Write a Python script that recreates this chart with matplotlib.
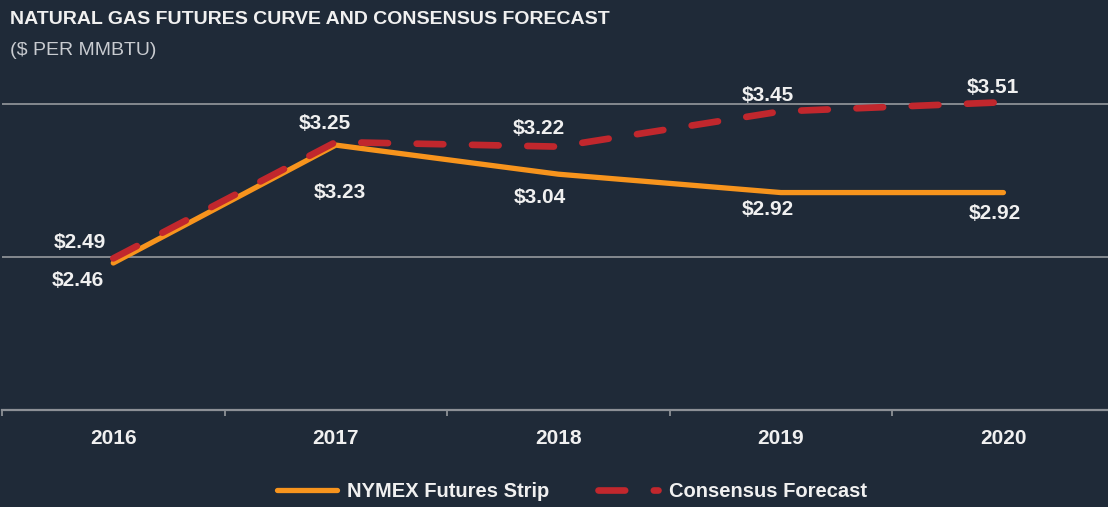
import matplotlib
matplotlib.use("Agg")
import matplotlib.pyplot as plt

plt.rcParams["font.family"] = ["Liberation Sans", "DejaVu Sans"]

years = ["2016", "2017", "2018", "2019", "2020"]
nymex_strip = [2.46, 3.23, 3.04, 2.92, 2.92]
consensus = [2.49, 3.25, 3.22, 3.45, 3.51]

# label offsets in pixels (dx, dy) from each point
nymex_offsets = [(-35, -18), (4, -47), (-19, -23), (-13, -17), (-9, -21)]
consensus_offsets = [(-33, 16), (-11, 19), (-20, 18), (-13, 16), (-11, 15)]

BG = "#1f2a38"
ORANGE = "#f7941d"
RED = "#c1272d"
GRID = "#8c9096"
TEXT = "#f0f0f0"

fig = plt.figure(figsize=(11.08, 5.07), dpi=100, facecolor=BG)
ax = fig.add_axes([2 / 1108, 1 - 410 / 507, 1 - 2 / 1108, 343 / 507])
ax.set_facecolor(BG)

x = list(range(len(years)))
ax.plot(x, nymex_strip, color=ORANGE, lw=3.8, solid_capstyle="round",
        solid_joinstyle="round", label="NYMEX Futures Strip", zorder=3)
ax.plot(x, consensus, color=RED, lw=4.8, dashes=(4.0, 4.3),
        dash_capstyle="round", label="Consensus Forecast", zorder=4)

for xi, v, off in zip(x, nymex_strip, nymex_offsets):
    ax.annotate(f"${v:.2f}", (xi, v), xytext=off, textcoords="offset pixels",
                ha="center", va="center", color=TEXT, fontsize=15,
                fontweight="bold")
for xi, v, off in zip(x, consensus, consensus_offsets):
    ax.annotate(f"${v:.2f}", (xi, v), xytext=off, textcoords="offset pixels",
                ha="center", va="center", color=TEXT, fontsize=15,
                fontweight="bold")

ax.set_xlim(-0.5, 4.47)
ax.set_ylim(1.5, 3.74)

ax.set_yticks([2.5, 3.5])
ax.yaxis.grid(True, color=GRID, lw=1.3)
ax.tick_params(axis="y", length=0, labelleft=False)

ax.set_xticks([i - 0.5 for i in x])
ax.set_xticklabels([])
ax.set_xticks(x, minor=True)
ax.set_xticklabels(years, minor=True)
ax.tick_params(axis="x", which="major", direction="out", length=4,
               width=1.3, color=GRID)
ax.tick_params(axis="x", which="minor", length=0, pad=14, labelsize=15,
               labelcolor=TEXT)
for lbl in ax.get_xticklabels(minor=True):
    lbl.set_fontweight("bold")

for s in ["top", "left", "right"]:
    ax.spines[s].set_visible(False)
ax.spines["bottom"].set_color(GRID)
ax.spines["bottom"].set_linewidth(1.6)
ax.set_axisbelow(True)

fig.text(0.009, 1 - 19 / 507, "NATURAL GAS FUTURES CURVE AND CONSENSUS FORECAST",
         color=TEXT, fontsize=14, fontweight="bold", va="center")
fig.text(0.009, 1 - 50 / 507, "($ PER MMBTU)", color="#c8cbd0", fontsize=14,
         va="center")

leg = fig.legend(loc="center", bbox_to_anchor=(0.516, 0.03), ncol=2,
                 frameon=False, handlelength=3.0, columnspacing=2.4,
                 handletextpad=0.5,
                 prop={"size": 14.5, "weight": "bold"})
for t in leg.get_texts():
    t.set_color(TEXT)

fig.savefig("out.png", dpi=100, facecolor=BG)
